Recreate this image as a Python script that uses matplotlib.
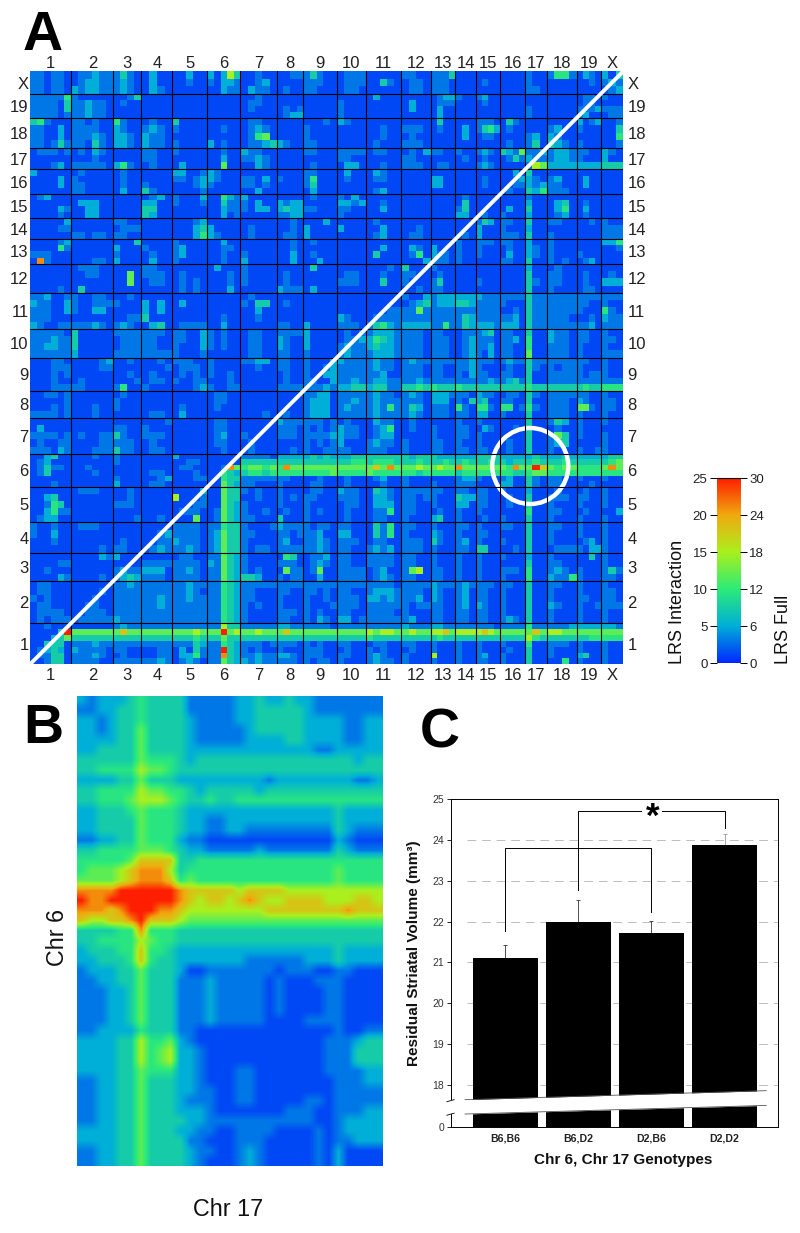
import matplotlib
matplotlib.use('Agg')
import matplotlib.pyplot as plt
from matplotlib.colors import LinearSegmentedColormap
from matplotlib.patches import Circle
import numpy as np

plt.rcParams['font.family'] = ['Liberation Sans', 'DejaVu Sans']

W, H = 800, 1233

# chromosome labels and their drawn spans
chroms = ['1', '2', '3', '4', '5', '6', '7', '8', '9', '10', '11', '12', '13', '14', '15', '16', '17', '18', '19', 'X']
chrom_len = [41.3, 42, 28, 31, 35, 33, 36.4, 26.6, 33.4, 29, 35.3, 29.7, 24.3, 21, 24, 25, 21.4, 30, 24, 22.6]
col_markers = [6, 6, 4, 4, 5, 5, 5, 4, 5, 4, 5, 4, 4, 3, 4, 4, 3, 4, 4, 3]
row_markers = [7, 6, 4, 4, 5, 6, 5, 4, 5, 4, 5, 4, 4, 3, 4, 4, 3, 4, 4, 3]

# digit -> LRS value, read against the colour bar
lrs_levels = [1.2, 3, 5, 7.5, 9.5, 12, 15, 18, 21, 25]

# panel A cells, one list per chromosome row, columns grouped 1..X
rows_x = [
    "110110 011211 1310 0200 00200 20263 00100 0011 13100 0111 00000 1100 1113 000 0000 0000 100 1441 0210 203",
    "110110 012211 1210 0200 00100 10221 00120 0000 11100 0111 00310 0110 1110 000 0100 0000 100 0000 0010 121",
    "110110 212211 1210 0210 00000 00211 02110 0100 11000 0110 00000 0110 1110 000 0000 0000 110 0000 0000 012",
]
rows_19 = [
    "111114 100000 0013 0000 00000 00000 00100 0000 00000 0000 02000 0000 0122 100 1200 0000 000 0000 0110 100",
    "111103 112110 0100 0000 00000 00000 01100 0000 00000 1000 00000 0200 0111 000 0100 0000 000 0000 0110 000",
    "111103 112110 0000 0000 00000 00000 01000 0101 00000 1000 00000 0200 0200 000 0000 0000 100 0000 1112 111",
    "111101 112110 0000 0000 00000 00000 00000 0122 00000 1000 00000 0000 0200 000 0000 0000 100 0000 1200 011",
]
rows_18 = [
    "341000 110100 4100 0100 30000 00000 01100 0000 00010 2100 00000 0000 0300 000 1110 0310 000 0000 2012 001",
    "110020 111100 2100 1210 10000 00100 01210 0000 10000 0000 00100 1110 0100 020 1342 0100 000 1200 1000 003",
    "110020 111210 2210 2110 00000 00000 01450 0000 10000 0000 00100 0100 0000 020 0110 0000 120 2100 0000 004",
    "110131 110310 2210 2110 10000 20100 01123 2100 11000 0000 01000 1110 0000 000 0000 0100 130 3210 1000 001",
]
rows_17 = [
    "011101 010210 0000 1100 10000 00100 21100 0000 11000 1111 01100 0102 1100 100 1210 3215 112 1221 1100 210",
    "000000 000100 0000 1100 00000 00200 11210 0000 00000 1100 00000 1100 0000 010 0100 0131 211 1221 1000 200",
    "000120 111110 2410 0100 02000 00500 00210 0000 01000 0220 00100 1110 0110 000 1210 0000 165 2222 2222 333",
]
rows_16 = [
    "200000 010000 0100 0000 22001 21000 00000 0000 11000 0200 02100 0000 0000 000 0000 0020 300 0000 0000 000",
    "000020 100000 0100 0000 11012 21000 11020 1000 14000 0100 01100 0000 2200 000 0100 0012 210 1200 0200 000",
    "000020 110000 0100 1000 00012 10000 11010 0000 13000 0000 00000 0000 2200 000 0100 0011 212 1100 0200 000",
    "000000 110000 0200 3100 00001 00000 00200 0000 02000 0000 01200 0000 0000 000 0000 0100 324 1110 0000 000",
]
rows_15 = [
    "012000 000000 0000 0120 10002 00421 20000 0000 01000 1020 00000 0000 0000 010 0000 0000 100 0000 0000 000",
    "000000 022200 0000 2200 10001 00311 10200 2122 00000 2212 00100 0000 0000 030 0000 0000 200 0230 0100 000",
    "000021 002200 0000 3300 00000 00211 10220 2322 11000 1100 00200 0000 0000 130 0000 0200 300 0240 0200 000",
    "000010 002200 0000 3200 00000 00201 00000 1122 00000 1000 00000 0000 0000 220 0100 1000 200 0120 0100 000",
]
rows_14 = [
    "000002 000000 1100 0000 00012 00000 00000 0010 00020 0000 01000 0000 0000 000 1320 1100 300 1100 0010 100",
    "000011 000000 0111 0000 00023 20000 01000 0010 20000 2000 00200 0010 0000 000 2000 1000 200 0000 0000 111",
    "000000 110110 1100 0000 00024 21000 01000 0110 20000 0000 01200 0110 0000 010 2000 1110 300 1000 0000 111",
]
rows_13 = [
    "000012 000000 0003 0000 10000 00200 00000 0010 01000 0000 00000 0000 0000 100 1110 1100 200 1000 0000 224",
    "000041 000000 2000 1000 12000 00110 00000 0010 00000 0000 00200 0210 2000 100 1000 0100 210 1000 0000 001",
    "111000 000000 1000 0100 12000 00100 10000 0020 01000 0000 03000 0140 2110 100 1000 0200 210 1000 1000 000",
    "081000 000110 2000 0200 10000 00100 20000 0020 00200 0000 00000 0002 1110 100 0000 1100 300 1010 0120 000",
]
rows_12 = [
    "000000 011100 0000 1100 00000 02000 10000 0000 03000 0000 00010 3000 1000 000 0000 0000 200 0100 0000 000",
    "000000 001100 0050 1110 01000 00010 10000 0100 00000 0110 00100 1100 0100 000 0000 0000 300 1100 0100 010",
    "000000 000000 0050 0110 01010 00010 10000 0100 00000 1110 00300 1000 1300 000 1000 0000 310 1100 0100 222",
    "000010 030000 0000 0000 01010 00020 00000 2111 02000 0000 00000 0010 1100 000 0000 0000 300 1000 0110 000",
]
rows_11 = [
    "112001 100110 0010 0000 00000 00000 01000 0000 00000 0000 00000 1002 1222 222 2111 1111 311 1111 1111 111",
    "211002 100111 1000 2020 02000 00000 10330 0100 00000 0000 00000 0123 1222 332 1111 1000 311 1111 1100 100",
    "111002 100220 0000 2020 00000 00000 00200 0000 00000 0000 00011 1151 1111 111 1111 0010 311 1111 1000 410",
    "111000 000000 0011 3000 00000 00100 00100 0000 00000 2100 01111 1111 1111 132 1111 1120 311 1110 0010 211",
    "210011 111210 1210 0230 01111 00200 00000 1100 20000 1110 13421 2222 1141 132 2221 2220 311 1111 1120 111",
]
rows_10 = [
    "111110 300000 1111 1110 11002 10100 01100 1111 20000 0101 12221 1110 1100 011 1230 1100 300 2110 1100 100",
    "111211 300000 0111 1100 11002 10100 01100 2100 20000 0112 24321 1110 1110 012 1110 1120 400 2110 1100 110",
    "112211 300000 0111 1100 10002 10100 01100 2100 20000 1211 23221 1110 1110 012 1120 1100 400 1110 1000 100",
    "111111 200000 1111 1111 10001 00000 01100 1100 10000 1211 12221 1110 1110 012 1020 1100 500 1110 1000 111",
]
rows_9 = [
    "000110 000012 0010 0010 11100 10000 11220 1100 10002 2111 12110 1211 1111 112 1110 1211 311 1111 1100 100",
    "000111 000011 0000 0001 01110 10000 00100 1100 10012 1111 12110 1110 1100 112 1000 0100 310 1011 1000 100",
    "000101 000000 0010 0100 01010 10010 00000 0100 10022 1111 11200 1110 1100 102 1100 1100 300 1111 1011 100",
    "000100 010000 0001 0110 10011 00010 00000 0100 11002 1121 12211 1121 1111 111 1121 1231 300 1111 1111 111",
    "000111 110000 1400 1000 00012 10011 00000 1111 11121 2233 23311 3343 4333 433 3333 3333 433 3333 3433 444",
]
rows_8 = [
    "001101 000000 0100 0000 00000 01100 00000 0000 11220 1111 12110 1210 2221 110 2110 0110 310 1111 1100 100",
    "000001 000000 1000 0000 00000 01100 00000 0000 12220 1121 12111 1110 2220 103 2300 1100 300 1110 2100 110",
    "000101 000100 1000 0000 01000 01000 00000 0000 12220 1211 12141 1320 1110 410 4410 4401 410 1110 5510 110",
    "111101 000100 0000 0110 02000 00000 00010 0100 12220 1111 12111 1210 1110 110 2200 1000 300 1110 1000 100",
]
rows_7 = [
    "000000 000000 0000 0001 00000 01100 00000 2111 11101 0100 02110 0100 0000 100 1000 0000 300 1320 1000 100",
    "020000 000000 1100 1000 00000 01100 00000 1110 10101 2110 01240 0100 1000 110 0210 0010 300 0100 1000 000",
    "111101 010011 3100 1110 00000 01200 10000 1110 11112 2110 01220 0000 1000 110 1000 0000 300 1530 1000 100",
    "010011 000011 1110 0100 00000 01100 01000 0000 10101 2000 12110 1000 1100 100 1000 0100 300 1230 0000 100",
    "111021 000111 3110 0110 00000 00100 01000 0010 10011 1100 11100 1000 1100 110 1100 0100 300 1000 1001 100",
]
rows_6 = [
    "002300 000100 1000 0000 20000 00000 11110 2222 23232 2233 33333 3233 3222 222 3333 2222 232 2232 2222 233",
    "012000 000000 1000 0000 00110 00000 33333 3333 33333 3344 34443 3343 3343 343 3343 3233 343 3343 3333 345",
    "013110 001000 0000 0000 01100 00185 45545 4855 55555 5555 57585 5565 5655 855 5555 5485 597 5455 4444 585",
    "013000 000100 0000 0110 00010 00432 34434 4444 44445 4444 54444 4434 4444 344 4444 4433 455 4444 4444 444",
    "000000 000000 1000 0012 00011 00433 11111 1100 00100 0100 01200 1000 0000 122 1000 1200 310 1100 1000 100",
    "000100 000000 2000 0110 00000 00532 11000 1000 01100 0100 00100 1000 1000 111 0000 2200 310 1100 0010 000",
]
rows_5 = [
    "000000 011100 0010 0000 00002 00533 10100 1000 01100 2110 03210 1111 1100 110 1100 1000 200 0100 0100 100",
    "002300 000000 0010 0000 60001 00533 00100 1010 11000 1110 02210 1101 1000 322 1100 0100 300 1110 1100 100",
    "001430 000000 1110 0000 00011 00532 10000 1000 10000 0110 02220 1100 1000 220 1100 0100 300 1000 1000 100",
    "002411 000000 0000 0000 01110 01532 10010 0100 10100 0100 01140 1100 0100 100 1000 0000 400 1100 0100 002",
    "012200 000000 0001 0010 00050 01532 11000 3000 10000 0100 01100 1000 2300 100 0100 1000 300 1000 1000 100",
]
rows_4 = [
    "100100 011100 0000 0000 11110 11433 10001 2111 10110 1100 03140 1100 1000 110 1000 1100 300 1100 1000 100",
    "100200 000000 0000 0012 11110 12533 11000 1101 11200 2200 03140 1000 2100 100 1100 0000 300 1000 1000 100",
    "000100 000000 0100 0011 21110 12533 10000 1200 11210 1110 01100 1110 3100 120 1000 1000 300 1000 0120 100",
    "000000 000010 1100 0121 11210 12533 10110 1111 11210 1100 12120 1110 1000 110 3300 0010 300 0111 1022 100",
]
rows_3 = [
    "000000 000021 2000 0000 01100 11532 10000 0430 01120 1100 11110 1100 1000 100 1000 1000 200 1000 0030 100",
    "000011 000000 0000 1111 11110 21532 10000 1110 01210 1100 11110 1100 1000 100 1000 0000 300 1100 0000 100",
    "001000 000000 1211 2220 11210 11532 10100 0511 01500 1111 01200 1560 1100 100 1000 1110 400 1210 1000 131",
    "000021 000010 1232 1110 11110 11532 33200 1011 00200 1111 01210 1100 1100 100 1000 1000 400 2114 1000 110",
]
rows_2 = [
    "011000 000000 1121 1111 11211 11432 11111 1111 11111 1111 11110 1111 2111 121 1110 1100 300 1100 1000 100",
    "011000 000010 1111 1111 11210 11432 11000 1100 11010 1100 12221 1110 2100 120 1100 1000 300 1000 1000 110",
    "101000 000100 1111 1121 11211 11432 11000 1000 10010 1110 22121 1120 2100 120 1100 1000 300 1000 1100 110",
    "011000 001100 1111 1121 11111 11432 10100 1000 10001 1110 11111 1011 1100 120 2100 1000 300 2100 1001 111",
    "011110 001110 1111 1111 11111 11432 10000 1110 10100 1100 11110 1000 1100 110 1100 1000 300 1000 1000 100",
    "010111 011111 2111 1111 11111 11432 10000 1100 10210 2201 11111 1200 1100 110 1100 1210 300 1000 1000 100",
]
rows_1 = [
    "001000 000000 1211 1111 11111 11633 11111 2211 11110 1111 11111 2111 2211 111 1110 1111 411 1112 2222 221",
    "000039 555555 5755 5555 55565 55956 55655 5755 55555 5555 65665 5655 6675 666 6765 5555 575 6655 5555 555",
    "000235 333333 3333 3333 33343 33533 33333 3333 33333 3333 43333 3333 3433 333 3333 3333 643 3333 3344 444",
    "003330 111211 1111 1111 11132 11432 11101 1110 10100 1100 01100 1100 1000 100 1000 1000 400 1110 1000 100",
    "012320 211110 1100 0011 02031 11932 10100 1000 11100 0100 10100 0100 1000 100 1000 0100 300 1000 1000 100",
    "011330 111210 0100 0011 02241 11832 11211 2210 11100 1100 12100 1000 6000 100 1200 1000 300 1000 2300 100",
    "001330 111100 1111 1121 01210 11532 21211 1110 10110 1000 12110 1000 1000 100 1100 1000 300 0040 1000 100",
]

# panel B, Chr 17 across and Chr 6 down
zoom_rows = [
    "2122 23 4 3333 11111 22322 32211 11111",
    "1122 33 4 3333 11111 22333 33211 11111",
    "2212 33 4 3333 21111 22333 33222 21122",
    "2212 33 5 3333 21111 12333 33222 21122",
    "2222 33 5 3333 21111 12222 33222 21122",
    "2233 33 5 3333 22222 22222 22211 22222",
    "3333 33 5 4443 23333 33333 33333 33233",
    "3344 44 6 5543 33333 33333 33333 33333",
    "2222 33 5 3332 22222 22212 22222 22112",
    "3344 44 6 5544 32333 33233 33333 33333",
    "3344 45 6 6654 33433 44444 44444 44444",
    "2233 34 5 4443 22222 22222 22222 32222",
    "2233 33 5 4443 22112 22222 22222 32222",
    "2233 33 5 4443 22112 21111 11111 32111",
    "1122 33 5 4442 11000 00000 00000 21000",
    "3344 44 5 5543 22111 11211 11111 32111",
    "4444 45 7 7773 34444 44444 44444 44444",
    "4555 67 8 8863 44444 44444 44444 54444",
    "5555 67 8 8874 54444 44444 44444 54444",
    "8888 99 9 9998 77777 67777 66666 66666",
    "9889 99 9 9998 76776 78766 77776 66776",
    "8887 89 9 9887 66666 66677 77777 78777",
    "7667 78 9 7776 55555 55555 55555 55555",
    "3333 44 8 4443 33333 33333 33333 33333",
    "3344 44 6 5443 33333 33333 33333 33333",
    "2333 44 7 4432 22222 22222 22222 32222",
    "2233 34 7 4332 22222 21111 11222 32222",
    "1222 33 5 3332 00111 11110 11100 11000",
    "1122 33 5 3331 11211 11101 00011 10000",
    "1112 23 5 3331 11211 11101 00001 10000",
    "1112 23 5 3331 11211 11101 00001 10000",
    "1112 23 5 3331 11211 11101 00001 10000",
    "1112 23 5 3331 11211 11100 00111 10000",
    "1122 22 4 3331 10000 00000 00000 10011",
    "2222 33 6 4452 10000 00000 00001 11233",
    "2222 33 6 4562 21000 00000 00001 11333",
    "2222 33 6 4562 21000 00000 00001 11333",
    "2222 33 5 4442 21000 11000 00001 11122",
    "1122 33 5 3332 21000 11000 00000 11122",
    "1122 33 5 3332 21100 11000 00000 11111",
    "1122 33 5 3332 11100 11000 00110 11111",
    "1122 33 5 3332 22100 00000 11100 11122",
    "1122 33 5 3333 22111 11111 11100 12222",
    "2222 33 5 3332 21100 11110 00010 12222",
    "2222 33 5 3333 11000 11100 00010 11222",
    "1122 33 5 3333 21100 12100 00010 20000",
    "1122 33 5 3333 21000 12100 00010 20000",
]

# panel C
genotypes = ['B6,B6', 'B6,D2', 'D2,B6', 'D2,D2']
volume = [21.12, 21.99, 21.72, 23.87]
volume_err = [0.30, 0.53, 0.30, 0.28]
volume_ticks = [18, 19, 20, 21, 22, 23, 24, 25]
axis_zero = 16.99  # where the broken axis puts its 0


def px_axes(x0, y0, x1, y1):
    return fig.add_axes([x0 / W, 1 - y1 / H, (x1 - x0) / W, (y1 - y0) / H])


def edges(markers):
    out = [0.0]
    start = 0.0
    for n, l in zip(markers, chrom_len):
        out.extend(start + l * (i + 1) / n for i in range(n))
        start += l
    return np.array(out)


def parse_row(row, sizes):
    cells = []
    for g, n in zip(row.split(), sizes):
        cells.extend(lrs_levels[int(c)] for c in g[:n].ljust(n, g[-1]))
    return cells


cmap = LinearSegmentedColormap.from_list('lrs', [
    (0.0, (0, 40 / 255, 1)),
    (0.2, (0, 175 / 255, 215 / 255)),
    (0.4, (45 / 255, 235 / 255, 120 / 255)),
    (0.6, (170 / 255, 240 / 255, 30 / 255)),
    (0.8, (240 / 255, 170 / 255, 15 / 255)),
    (1.0, (1, 30 / 255, 0)),
])

fig = plt.figure(figsize=(W / 100, H / 100), dpi=100)

# ---- panel A
all_rows = (rows_x + rows_19 + rows_18 + rows_17 + rows_16 + rows_15 + rows_14 + rows_13 + rows_12 + rows_11
            + rows_10 + rows_9 + rows_8 + rows_7 + rows_6 + rows_5 + rows_4 + rows_3 + rows_2 + rows_1)
Z = np.array([parse_row(r, col_markers) for r in all_rows[::-1]])
bounds = np.concatenate([[0], np.cumsum(chrom_len)])
mids = (bounds[:-1] + bounds[1:]) / 2
total = bounds[-1]

ax = px_axes(30, 71.3, 623.3, 664.3)
ax.pcolormesh(edges(col_markers), edges(row_markers), Z, cmap=cmap, vmin=0, vmax=25, antialiased=False)
for b in bounds[1:-1]:
    ax.axvline(b, color='black', lw=0.8)
    ax.axhline(b, color='black', lw=0.8)
ax.plot([0, total], [0, total], color='white', lw=2.8, solid_capstyle='butt')
ax.add_patch(Circle((500, 198.3), 38, fill=False, ec='white', lw=3.2))
ax.set_xlim(0, total)
ax.set_ylim(0, total)
ax.set_xticks(mids, chroms)
ax.set_yticks(mids, chroms)
ax.tick_params(length=0, labelsize=12, labelcolor='#222222')
ax.tick_params(axis='x', pad=3)
ax.tick_params(axis='y', pad=1)
top = ax.secondary_xaxis('top')
top.set_xticks(mids, chroms)
top.tick_params(length=0, labelsize=12, labelcolor='#222222', pad=0)
right = ax.secondary_yaxis('right')
right.set_yticks(mids, chroms)
right.tick_params(length=0, labelsize=12, labelcolor='#222222', pad=3)
for a in [ax, top, right]:
    for s in a.spines.values():
        s.set_visible(False)

# ---- colour bar
cax = px_axes(716.7, 478.3, 740, 663.3)
cax.imshow(np.linspace(0, 25, 256)[:, None], origin='lower', extent=[0, 1, 0, 25], aspect='auto',
           cmap=cmap, vmin=0, vmax=25)
cax.set_xticks([])
cax.set_yticks([0, 5, 10, 15, 20, 25])
cax.tick_params(length=5.2, width=0.7, labelsize=9.5, labelcolor='#222222', pad=1.5)
for k in ['left', 'right', 'bottom']:
    cax.spines[k].set_visible(False)
cax.spines['top'].set_linewidth(0.8)
cax2 = cax.twinx()
cax2.set_ylim(0, 30)
cax2.set_yticks([0, 6, 12, 18, 24, 30])
cax2.tick_params(length=5.2, width=0.7, labelsize=9.5, labelcolor='#222222', pad=1.5)
for s in cax2.spines.values():
    s.set_visible(False)

# ---- panel B
Zb = np.array([parse_row(r, [4, 2, 1, 4, 5, 5, 5, 5]) for r in zoom_rows])
bx = px_axes(77, 696, 383, 1166)
bx.imshow(Zb, cmap=cmap, vmin=0, vmax=25, aspect='auto', interpolation='bilinear')
bx.axis('off')

# ---- panel C
cx = px_axes(450.7, 798.7, 778, 1126.7)
pos = np.arange(len(genotypes))
cx.set_xlim(-0.747, 3.731)
cx.set_ylim(axis_zero, 25)
cx.hlines(volume_ticks[:-1], -0.53, 3.731, color='#bdbdbd', lw=0.7, ls=(0, (9, 6)), zorder=1)
cx.errorbar(pos[:3], volume[:3], yerr=[[0, 0, 0], volume_err[:3]], fmt='none', ecolor='#333333',
            elinewidth=0.6, capsize=1.5, capthick=0.6, zorder=2)
cx.errorbar(pos[3:], volume[3:], yerr=[[0], volume_err[3:]], fmt='none', ecolor='#999999',
            elinewidth=0.6, capsize=1.5, capthick=0.6, zorder=2)
cx.bar(pos, np.array(volume) - axis_zero, bottom=axis_zero, width=0.897, color='black', zorder=3)

# axis break
brk_x = [-0.55, 3.57]
brk_hi = [17.65, 17.87]
brk_lo = [17.30, 17.51]
cx.fill_between(brk_x, brk_lo, brk_hi, color='white', lw=0, zorder=4)
cx.plot(brk_x, brk_hi, color='#555555', lw=0.6, zorder=5)
cx.plot(brk_x, brk_lo, color='#555555', lw=0.6, zorder=5)
cx.fill_between([-0.76, -0.735], 17.30, 17.63, color='white', lw=0, zorder=6, clip_on=False)
cx.plot([-0.80, -0.70], [17.60, 17.65], color='black', lw=0.6, zorder=6, clip_on=False)
cx.plot([-0.80, -0.70], [17.27, 17.32], color='black', lw=0.6, zorder=6, clip_on=False)

# significance brackets
cx.plot([0, 0, 2, 2], [21.76, 23.79, 23.79, 22.23], color='black', lw=0.7, zorder=6)
cx.plot([1, 1, 1.85], [22.77, 24.70, 24.70], color='black', lw=0.7, zorder=6)
cx.plot([2.15, 3, 3], [24.70, 24.70, 24.29], color='black', lw=0.7, zorder=6)
cx.text(2.01, 24.55, '*', fontsize=25, fontweight='bold', ha='center', va='center', zorder=7)

cx.set_xticks(pos, genotypes, fontweight='bold', fontsize=7.6, color='#222222')
cx.set_yticks([axis_zero] + volume_ticks, ['0'] + [str(v) for v in volume_ticks])
cx.tick_params(axis='x', length=0, pad=5)
cx.tick_params(axis='y', length=3, width=0.6, labelsize=7.5, labelcolor='#333333', pad=1.5)
for s in cx.spines.values():
    s.set_linewidth(0.7)


def px_text(x, y, s, **kw):
    fig.text(x / W, 1 - y / H, s, ha=kw.pop('ha', 'center'), va=kw.pop('va', 'center'), **kw)


px_text(414, 953, 'Residual Striatal Volume (mm³)', rotation=90, fontsize=11, fontweight='bold', color='#111111')
px_text(623, 1160, 'Chr 6, Chr 17 Genotypes', fontsize=11, fontweight='bold', color='#111111')
px_text(678, 664, 'LRS Interaction', rotation=90, fontsize=13, va='bottom', color='#111111')
px_text(783, 664, 'LRS Full', rotation=90, fontsize=13, va='bottom', color='#111111')
px_text(58, 937, 'Chr 6', rotation=90, fontsize=16.8, color='#111111')
px_text(228, 1210, 'Chr 17', fontsize=16.8, color='#111111')
px_text(43, 50, 'A', fontsize=40, fontweight='bold', va='baseline')
px_text(43, 743, 'B', fontsize=40, fontweight='bold', va='baseline')
px_text(440, 747, 'C', fontsize=40, fontweight='bold', va='baseline')

fig.savefig('out.png', dpi=100)
